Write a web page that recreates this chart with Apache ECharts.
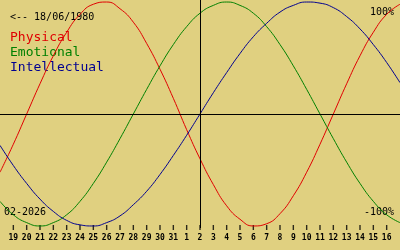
<!DOCTYPE html>
<html><head><meta charset="utf-8">
<script src="https://cdn.jsdelivr.net/npm/echarts@6/dist/echarts.min.js"></script>
<style>html,body{margin:0;padding:0;background:#e0d080}#c{width:400px;height:250px}</style>
</head><body><div id="c"></div>
<script>
// Day labels for tick positions 0..28 (19 Jan .. 16 Feb 2026)
const dayLabels = ['19','20','21','22','23','24','25','26','27','28','29','30','31','1','2','3','4','5','6','7','8','9','10','11','12','13','14','15','16'];
// Daily values from day index -1 (18 Jan) to 29 (17 Feb)
const physical = [-0.52,-0.27,0,0.27,0.52,0.73,0.89,0.98,1.00,0.94,0.82,0.63,0.40,0.14,-0.14,-0.40,-0.63,-0.82,-0.94,-1.00,-0.98,-0.89,-0.73,-0.52,-0.27,0,0.27,0.52,0.73,0.89,0.98];
const emotional = [-0.78,-0.90,-0.97,-1.00,-0.97,-0.90,-0.78,-0.62,-0.43,-0.22,0,0.22,0.43,0.62,0.78,0.90,0.97,1.00,0.97,0.90,0.78,0.62,0.43,0.22,0,-0.22,-0.43,-0.62,-0.78,-0.90,-0.97];
const intellectual = [-0.28,-0.46,-0.62,-0.76,-0.87,-0.95,-0.99,-1.00,-0.97,-0.91,-0.81,-0.69,-0.54,-0.37,-0.19,0,0.19,0.37,0.54,0.69,0.81,0.91,0.97,1.00,0.99,0.95,0.87,0.76,0.62,0.46,0.28];
const todayIndex = 14;
const birthText = '<-- 18/06/1980';
const monthText = '02-2026';
const seriesNames = ['Physical','Emotional','Intellectual'];

const colors = ['#e00000','#008000','#000090'];
const toPairs = arr => arr.map((v, k) => [k - 1, v]);

const chart = echarts.init(document.getElementById('c'), null, {renderer: 'canvas'});
const mono = "'DejaVu Sans Mono', monospace";
chart.setOption({
  animation: false,
  backgroundColor: '#e0d080',
  grid: [
    {left: 0, right: 0, top: 0, bottom: 22},
    {left: 13.333, right: 13.333, top: 225, height: 5}
  ],
  xAxis: [
    {gridIndex: 0, type: 'value', min: -1, max: 29, interval: 1, show: false},
    {gridIndex: 1, type: 'category', data: dayLabels, boundaryGap: false,
     axisLine: {show: false},
     splitLine: {show: false},
     axisTick: {show: false},
     axisLabel: {show: true, interval: 0, margin: 3.5, color: '#000',
       fontFamily: mono, fontSize: 8, fontWeight: 'bold'}}
  ],
  yAxis: [
    {gridIndex: 0, type: 'value', min: -1.018, max: 1.018, show: false},
    {gridIndex: 1, type: 'value', min: 0, max: 1, show: false}
  ],
  series: [
    {name: seriesNames[0], type: 'line', data: toPairs(physical), smooth: true, showSymbol: false,
     lineStyle: {color: colors[0], width: 1}, silent: true,
     markLine: {silent: true, symbol: 'none', label: {show: false},
       lineStyle: {color: '#000', width: 1, type: 'solid'},
       data: [{xAxis: todayIndex}, {yAxis: 0}]}},
    {name: seriesNames[1], type: 'line', data: toPairs(emotional), smooth: true, showSymbol: false,
     lineStyle: {color: colors[1], width: 1}, silent: true},
    {name: seriesNames[2], type: 'line', data: toPairs(intellectual), smooth: true, showSymbol: false,
     lineStyle: {color: colors[2], width: 1}, silent: true},
    {name: 'ticks', type: 'scatter', xAxisIndex: 1, yAxisIndex: 1, silent: true,
     symbol: 'rect', symbolSize: [1.4, 5], itemStyle: {color: '#000'},
     data: dayLabels.map(d => [d, 0.5])}
  ],
  graphic: [
    {type: 'text', left: 10, top: 12, style: {text: birthText, fill: '#000', font: '10px ' + mono}},
    {type: 'text', left: 10, top: 31, style: {text: seriesNames[0], fill: colors[0], font: '13px ' + mono}},
    {type: 'text', left: 10, top: 46, style: {text: seriesNames[1], fill: colors[1], font: '13px ' + mono}},
    {type: 'text', left: 10, top: 61, style: {text: seriesNames[2], fill: colors[2], font: '13px ' + mono}},
    {type: 'text', right: 6, top: 7, style: {text: '100%', fill: '#000', font: '10px ' + mono}},
    {type: 'text', right: 6, top: 207, style: {text: '-100%', fill: '#000', font: '10px ' + mono}},
    {type: 'text', left: 4, top: 207, style: {text: monthText, fill: '#000', font: '10px ' + mono}}
  ]
});
</script></body></html>
